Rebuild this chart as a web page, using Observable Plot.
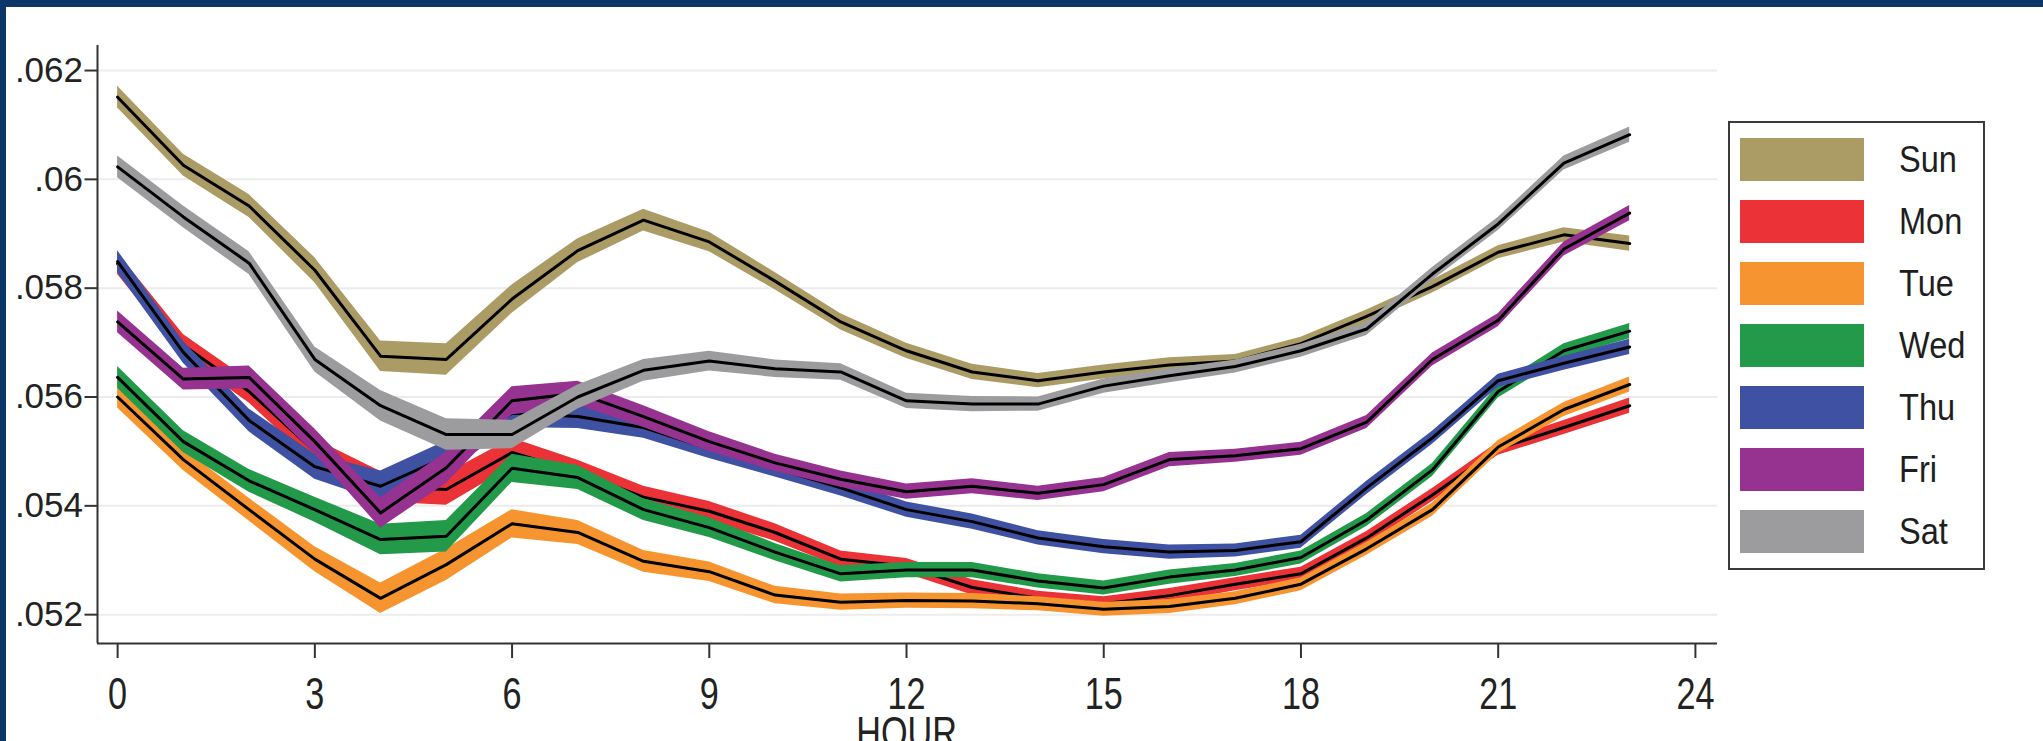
<!DOCTYPE html>
<html><head><meta charset="utf-8">
<script src="https://cdn.jsdelivr.net/npm/d3@7"></script>
<script src="https://cdn.jsdelivr.net/npm/@observablehq/plot@0.6"></script>
<style>
html,body{margin:0;padding:0;background:#fff;}
#wrap{position:relative;width:2043px;height:741px;overflow:hidden;font-family:"Liberation Sans",Arial,sans-serif;}
#wrap svg{position:absolute;left:0;top:0;}
.frame{position:absolute;background:#0b3668;}
#legend{position:absolute;left:1728px;top:121px;width:257px;height:449px;box-sizing:border-box;border:2px solid #3a3a3a;background:#fff;}
.sw{position:absolute;left:10px;width:124px;height:43px;}
.lab{position:absolute;left:169px;font-size:37px;line-height:43px;height:43px;color:#1e1e1e;transform:scaleX(0.88);transform-origin:left center;white-space:nowrap;}
</style></head>
<body><div id="wrap"></div>
<script>
// ---- data ----
const hours = [0,1,2,3,4,5,6,7,8,9,10,11,12,13,14,15,16,17,18,19,20,21,22,23];
const days = ["Sun","Mon","Tue","Wed","Thu","Fri","Sat"];
const dayColors = ["#ab9c66","#ea3237","#f6952f","#23994a","#3f51a2","#963290","#9c9c9e"];

const sun = [0.06151,0.06026,0.05951,0.05833,0.05675,0.05669,0.05780,0.05869,0.05925,0.05885,0.05813,0.05738,0.05685,0.05646,0.05630,0.05646,0.05659,0.05666,0.05698,0.05748,0.05803,0.05866,0.05898,0.05882];
const mon = [0.05845,0.05695,0.05610,0.05500,0.05435,0.05430,0.05498,0.05462,0.05416,0.05390,0.05351,0.05302,0.05289,0.05250,0.05230,0.05220,0.05235,0.05256,0.05275,0.05341,0.05420,0.05505,0.05544,0.05584];
const tue = [0.05600,0.05485,0.05393,0.05302,0.05230,0.05292,0.05367,0.05351,0.05298,0.05279,0.05236,0.05223,0.05226,0.05225,0.05220,0.05210,0.05215,0.05230,0.05256,0.05321,0.05393,0.05508,0.05577,0.05623];
const wed = [0.05636,0.05518,0.05446,0.05393,0.05338,0.05344,0.05469,0.05452,0.05393,0.05360,0.05315,0.05275,0.05282,0.05282,0.05262,0.05249,0.05269,0.05282,0.05305,0.05374,0.05466,0.05610,0.05685,0.05721];
const thu = [0.05849,0.05682,0.05557,0.05472,0.05436,0.05490,0.05570,0.05564,0.05544,0.05505,0.05469,0.05433,0.05393,0.05371,0.05341,0.05325,0.05315,0.05318,0.05334,0.05433,0.05525,0.05630,0.05662,0.05692];
const fri = [0.05738,0.05633,0.05636,0.05518,0.05387,0.05470,0.05593,0.05607,0.05564,0.05518,0.05479,0.05449,0.05426,0.05436,0.05423,0.05439,0.05485,0.05492,0.05505,0.05554,0.05669,0.05741,0.05872,0.05938];
const sat = [0.06023,0.05931,0.05846,0.05669,0.05584,0.05531,0.05531,0.05600,0.05649,0.05666,0.05652,0.05646,0.05593,0.05587,0.05587,0.05620,0.05639,0.05656,0.05685,0.05725,0.05826,0.05918,0.06030,0.06082];
// half-width of the confidence band at each hour
const halfWidth = [0.00020,0.00020,0.00021,0.00023,0.00028,0.00029,0.00026,0.00022,0.00020,0.00018,0.00016,0.00015,0.00014,0.00014,0.00013,0.00013,0.00013,0.00012,0.00012,0.00012,0.00012,0.00012,0.00013,0.00014];

const xTicks = [0,3,6,9,12,15,18,21,24];
const yTicks = [0.052,0.054,0.056,0.058,0.060,0.062];
const xLabel = "HOUR";

// ---- build table ----
const seriesValues = [sun, mon, tue, wed, thu, fri, sat];
const rows = [];
days.forEach((day, k) => {
  hours.forEach((h, i) => {
    const v = seriesValues[k][i];
    rows.push({day, hour: h, value: v, lo: v - halfWidth[i], hi: v + halfWidth[i]});
  });
});

const yFmt = d => String(+d.toFixed(3)).replace(/^0/, "");

const marks = [
  Plot.gridY(yTicks, {stroke: "#ececec", strokeOpacity: 1, strokeWidth: 2})
];
days.forEach((day, k) => {
  const sub = rows.filter(r => r.day === day);
  marks.push(Plot.areaY(sub, {x: "hour", y1: "lo", y2: "hi", fill: dayColors[k], fillOpacity: 1}));
  marks.push(Plot.line(sub, {x: "hour", y: "value", stroke: "#000", strokeWidth: 3}));
});
marks.push(
  Plot.ruleX([-0.306], {stroke: "#333", strokeWidth: 2}),
  Plot.ruleY([0.05147], {stroke: "#333", strokeWidth: 2}),
  Plot.axisY({ticks: yTicks, tickFormat: yFmt, tickSize: 12.5, tickPadding: 2, fontSize: 35, label: null, stroke: "#333", strokeWidth: 2, color: "#222"}),
  Plot.axisX({ticks: xTicks, tickFormat: d => String(d), tickSize: 15, tickPadding: 19, fontSize: 45, label: null, stroke: "#333", strokeWidth: 2, color: "#222"}),
  Plot.text([{t: xLabel, h: 12}], {x: "h", text: "t", frameAnchor: "bottom", lineAnchor: "top", dy: 73, fontSize: 45, fill: "#222", ariaLabel: "x-axis label"})
);

const chart = Plot.plot({
  width: 2043,
  height: 741,
  marginLeft: 97,
  marginRight: 326,
  marginTop: 45,
  marginBottom: 98,
  style: {fontFamily: '"Liberation Sans", Arial, sans-serif', background: "transparent", overflow: "visible"},
  x: {domain: [-0.306, 24.336]},
  y: {domain: [0.05147, 0.06246]},
  marks
});

const wrap = document.getElementById("wrap");
wrap.appendChild(chart);

// condensed x tick labels and axis title, as in the reference
function condense(el) {
  const t = el.getAttribute("transform");
  if (t) {
    el.setAttribute("transform", t + " scale(0.76,1)");
  } else {
    const x = el.getAttribute("x") || 0, y = el.getAttribute("y") || 0;
    el.removeAttribute("x"); el.removeAttribute("y");
    el.setAttribute("transform", `translate(${x},${y}) scale(0.76,1)`);
  }
}
d3.select(chart).selectAll('g[aria-label="x-axis tick label"] text').each(function() { condense(this); });
d3.select(chart).selectAll('text').filter(function() { return this.textContent === xLabel; }).each(function() { condense(this); });

// legend
const legend = document.createElement("div");
legend.id = "legend";
days.forEach((day, k) => {
  const sw = document.createElement("div");
  sw.className = "sw";
  sw.style.top = (14.5 + 62 * k) + "px";
  sw.style.background = dayColors[k];
  legend.appendChild(sw);
  const lab = document.createElement("div");
  lab.className = "lab";
  lab.style.top = (14.5 + 62 * k) + "px";
  lab.textContent = day;
  legend.appendChild(lab);
});
wrap.appendChild(legend);

// navy frame
[["0px","0px","2043px","7px"],["0px","0px","6px","741px"]].forEach(([l,t,w,h]) => {
  const f = document.createElement("div");
  f.className = "frame";
  f.style.left = l; f.style.top = t; f.style.width = w; f.style.height = h;
  wrap.appendChild(f);
});
</script>
</body></html>
